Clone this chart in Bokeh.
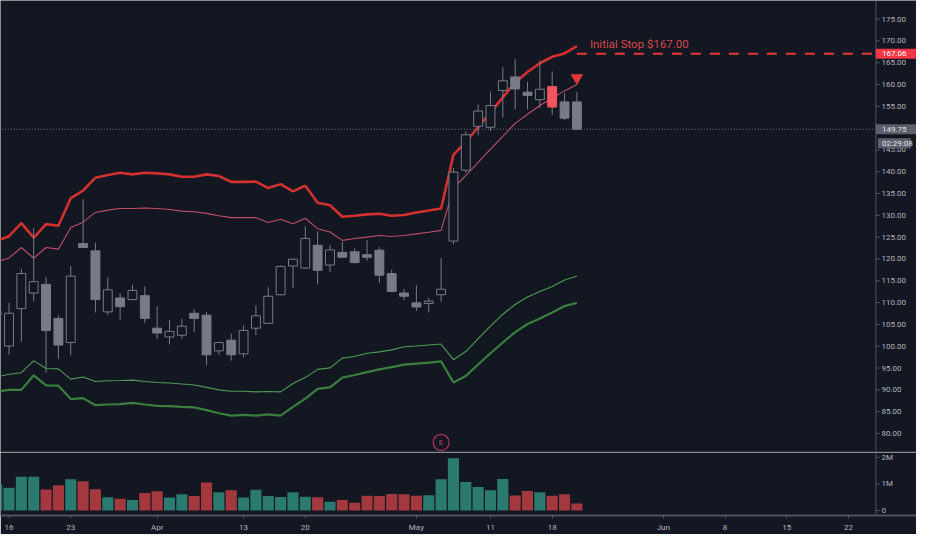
import numpy as np
from bokeh.plotting import figure
from bokeh.layouts import column
from bokeh.models import Range1d, FixedTicker, PrintfTickFormatter, Span, Label
from bokeh.core.properties import value
from bokeh.embed import file_html
from bokeh.resources import INLINE

# ---------------- data ----------------
dates = ["2020-03-13", "2020-03-16", "2020-03-17", "2020-03-18", "2020-03-19", "2020-03-20",
         "2020-03-23", "2020-03-24", "2020-03-25", "2020-03-26", "2020-03-27", "2020-03-30",
         "2020-03-31", "2020-04-01", "2020-04-02", "2020-04-03", "2020-04-06", "2020-04-07",
         "2020-04-08", "2020-04-09", "2020-04-13", "2020-04-14", "2020-04-15", "2020-04-16",
         "2020-04-17", "2020-04-20", "2020-04-21", "2020-04-22", "2020-04-23", "2020-04-24",
         "2020-04-27", "2020-04-28", "2020-04-29", "2020-04-30", "2020-05-01", "2020-05-04",
         "2020-05-05", "2020-05-06", "2020-05-07", "2020-05-08", "2020-05-11", "2020-05-12",
         "2020-05-13", "2020-05-14", "2020-05-15", "2020-05-18", "2020-05-19", "2020-05-20"]

opens = [107.05, 100.05, 108.61, 112.19, 114.2, 106.38, 100.85, 123.52, 121.87, 107.87, 111.07, 110.69,
         111.59, 104.14, 102.13, 102.51, 107.56, 107.11, 98.93, 101.39, 98.26, 104.14, 105.26, 111.81,
         118.38, 117.93, 123.14, 118.6, 121.51, 121.64, 120.97, 122.02, 116.66, 112.19, 109.95, 109.8,
         111.81, 124.1, 140.35, 150.41, 150.19, 158.62, 161.74, 158.24, 156.51, 159.51, 156.0, 156.0]
highs = [109.0, 109.95, 117.78, 127.1, 115.92, 107.11, 118.38, 133.65, 123.74, 115.76, 112.19, 114.04,
         113.69, 109.21, 106.0, 106.22, 108.45, 107.87, 101.01, 102.87, 104.74, 109.35, 113.53, 118.51,
         120.01, 127.46, 126.34, 123.21, 123.97, 122.47, 124.33, 122.76, 117.55, 113.08, 113.98, 111.07,
         120.24, 140.87, 149.29, 155.4, 158.39, 163.98, 165.84, 160.63, 165.46, 163.0, 158.01, 158.24]
lows = [106.0, 98.04, 101.01, 110.33, 93.93, 97.14, 97.88, 122.47, 107.72, 107.11, 106.09, 110.56,
        105.33, 101.62, 100.41, 101.75, 103.25, 95.65, 98.04, 96.7, 97.44, 102.51, 105.1, 111.67,
        113.31, 117.78, 114.2, 117.04, 120.24, 118.89, 119.63, 114.58, 112.35, 110.56, 108.1, 107.72,
        110.11, 123.36, 139.75, 148.33, 149.29, 152.42, 154.28, 154.28, 154.66, 153.03, 151.82, 149.58]
closes = [108.16, 107.56, 116.66, 114.8, 103.63, 100.27, 116.06, 122.63, 110.69, 112.93, 109.06, 112.79,
          106.38, 103.02, 103.4, 104.59, 106.38, 98.04, 100.85, 98.04, 103.63, 106.98, 111.45, 118.29,
          119.94, 124.71, 117.4, 122.09, 120.39, 119.18, 120.39, 116.28, 112.57, 111.45, 108.99, 110.33,
          113.08, 139.91, 148.47, 153.92, 155.17, 160.85, 158.97, 157.5, 158.91, 154.82, 152.27, 149.75]
volume_m = [0.99, 0.85, 1.27, 1.27, 0.79, 0.95, 1.17, 1.10, 0.80, 0.50, 0.44, 0.39,
            0.66, 0.72, 0.49, 0.61, 0.54, 1.05, 0.68, 0.76, 0.49, 0.78, 0.54, 0.51,
            0.68, 0.52, 0.50, 0.33, 0.39, 0.29, 0.55, 0.54, 0.62, 0.61, 0.55, 0.57,
            1.17, 1.96, 1.07, 0.88, 0.76, 1.18, 0.56, 0.73, 0.68, 0.55, 0.61, 0.26]

upper_outer = [124.15, 125.22, 128.21, 124.86, 127.99, 127.61, 133.94, 135.66, 138.63, 139.24, 139.75, 139.39,
               139.75, 139.62, 139.39, 138.86, 138.86, 139.39, 139.01, 137.67, 137.67, 137.74, 136.26, 137.16,
               135.5, 136.78, 132.91, 132.31, 129.69, 129.91, 130.23, 130.36, 129.91, 130.07, 130.67, 131.12,
               131.57, 143.86, 146.84, 150.19, 153.54, 157.05, 160.47, 162.86, 164.87, 166.35, 167.11, 168.81]
upper_inner = [119.34, 120.24, 122.63, 120.17, 122.63, 122.25, 127.23, 128.44, 130.67, 131.19, 131.57, 131.57,
               131.7, 131.57, 131.34, 130.96, 130.81, 130.45, 129.91, 129.47, 129.47, 129.47, 128.35, 129.11,
               128.06, 129.33, 126.94, 126.2, 124.26, 124.71, 125.0, 125.38, 125.15, 125.38, 125.76, 126.11,
               126.56, 136.17, 139.17, 142.14, 145.2, 148.11, 151.08, 153.16, 155.17, 156.89, 158.53, 160.02]
lower_inner = [92.96, 93.57, 93.93, 96.7, 94.91, 94.82, 92.45, 92.96, 91.91, 92.07, 92.14, 92.23,
               91.91, 91.69, 91.56, 91.33, 91.11, 90.57, 89.99, 89.68, 89.68, 89.54, 89.61, 89.54,
               91.47, 92.81, 94.69, 95.04, 97.28, 97.66, 98.4, 98.71, 99.16, 99.89, 100.05, 100.27,
               100.5, 96.92, 98.78, 101.75, 104.59, 107.34, 109.57, 111.29, 112.57, 113.69, 115.16, 116.06]
lower_outer = [89.61, 89.99, 89.99, 93.34, 91.02, 90.95, 87.89, 88.11, 86.48, 86.64, 86.71, 87.0,
               86.64, 86.33, 86.26, 86.1, 85.97, 85.36, 84.63, 84.09, 84.25, 84.09, 84.4, 84.09,
               86.1, 87.98, 90.22, 90.57, 92.81, 93.41, 94.08, 94.69, 95.2, 95.8, 96.03, 96.25,
               96.54, 91.69, 93.19, 95.8, 98.4, 100.86, 103.25, 105.1, 106.38, 107.72, 109.21, 109.95]

highlight_date = "2020-05-18"
signal_date = "2020-05-20"
signal_price = 161.5
earnings_date = "2020-05-05"
stop_price = 167.06
stop_text = "Initial Stop $167.00"
countdown_text = "02:29:08"

tick_pos = [1, 6, 13, 20, 25, 34, 40, 45, 54, 59, 64, 69]
tick_labels = ["16", "23", "Apr", "13", "20", "May", "11", "18", "Jun", "8", "15", "22"]
price_ticks = [80, 85, 90, 95, 100, 105, 110, 115, 120, 125, 130, 135, 140, 145, 150, 155, 160, 165, 170, 175]
vol_ticks = [0, 1, 2]
vol_tick_labels = ["0", "1M", "2M"]

# ---------------- style / layout ----------------
BG = "#131722"
GREY = "#787b86"
TEXT = "#b2b5be"
AXIS = "#50535e"
TEAL = "#2a7a70"
RED_VOL = "#a3393f"
RED_BAR = "#f5545d"
FONT = "Roboto"

W = 916
FRAME_H = 450
X_START, X_END = 0.31, 74.51      # full canvas width (price scale area included)
X_AXIS = 71.22                    # where the price scale starts
Y_START, Y_END = 75.64, 179.25
PX_X = W / (X_END - X_START)
PX_Y = FRAME_H / (Y_END - Y_START)
LABEL_STANDOFF = -(W - (X_AXIS - X_START) * PX_X) + 6

x = np.arange(len(dates))
o = np.array(opens); h = np.array(highs); l = np.array(lows); c = np.array(closes)
up = c >= o
hl = np.array([d == highlight_date for d in dates])
down = (~up) & (~hl)
upn = up & (~hl)


def style_scale_axis(ax, fig, ticks, overrides=None, fmt=None):
    ax.ticker = FixedTicker(ticks=ticks)
    if fmt is not None:
        ax.formatter = fmt
    if overrides is not None:
        ax.major_label_overrides = overrides
    ax.axis_line_color = None
    ax.major_tick_out = 0
    ax.major_tick_in = 0
    ax.minor_tick_out = 0
    ax.minor_tick_in = 0
    ax.major_label_text_color = TEXT
    ax.major_label_text_font = FONT
    ax.major_label_text_font_size = "8px"
    ok = True
    try:
        ax.major_label_standoff = int(round(LABEL_STANDOFF))
    except Exception:
        ok = False
    if not ok:
        ax.major_label_text_font_size = "0px"
        labels = [overrides[t] if overrides else f"{t:.2f}" for t in ticks]
        fig.text(x=[X_AXIS + 6 / PX_X] * len(ticks), y=ticks, text=labels, text_baseline="middle",
                 text_font=value(FONT), text_font_size="8px", text_color=TEXT)
    # scale line and tick marks
    fig.add_layout(Span(location=X_AXIS, dimension="height", line_color=AXIS, line_width=1))
    fig.segment(x0=[X_AXIS] * len(ticks), y0=ticks, x1=[X_AXIS + 4 / PX_X] * len(ticks), y1=ticks,
                line_color=AXIS, line_width=1)


# ---------------- price pane ----------------
p1 = figure(width=W, height=452, x_range=Range1d(X_START, X_END), y_range=Range1d(Y_START, Y_END),
            output_backend="svg", toolbar_location=None, y_axis_location="right",
            min_border_left=0, min_border_right=0, min_border_top=0, min_border_bottom=0,
            background_fill_color=BG, border_fill_color=BG, outline_line_color=None)
p1.grid.visible = False

p1.line(x, upper_inner, line_color="#c24d66", line_width=1.1)
p1.line(x, upper_outer, line_color="#d3302f", line_width=2.6)
p1.line(x, lower_inner, line_color="#4f9a55", line_width=1.1)
p1.line(x, lower_outer, line_color="#3b7f3f", line_width=2.2)

p1.segment(x, h, x, l, line_color=GREY, line_width=1)
p1.vbar(x=x[down], top=o[down], bottom=c[down], width=0.72, fill_color=GREY, line_color=GREY, line_width=1)
p1.vbar(x=x[upn], top=c[upn], bottom=o[upn], width=0.72, fill_color=BG, line_color=GREY, line_width=1)
p1.vbar(x=x[hl], top=np.maximum(o, c)[hl], bottom=np.minimum(o, c)[hl], width=0.72,
        fill_color=RED_BAR, line_color=RED_BAR, line_width=1)

# last price dotted line (up to the price scale)
p1.ray(x=[X_AXIS], y=[closes[-1]], length=0, angle=np.pi, line_color=GREY, line_width=1, line_dash="1 2")

# stop line and its text
last_x = x[-1]
p1.segment(x0=[last_x], y0=[stop_price], x1=[X_AXIS], y1=[stop_price],
           line_color="#e53935", line_width=2, line_dash="10 9")
p1.add_layout(Label(x=last_x, y=stop_price, x_offset=13, y_offset=3, text=stop_text,
                    text_font=FONT, text_font_size="11.5px", text_color="#d9474b",
                    text_baseline="bottom", text_align="left"))

# signal triangle
sx = dates.index(signal_date)
p1.scatter(x=[sx], y=[signal_price], marker="inverted_triangle", size=11,
           fill_color="#e53935", line_color="#e53935")

# earnings marker
ex = dates.index(earnings_date)
ey = Y_START + 10.0 / PX_Y
p1.scatter(x=[ex], y=[ey], marker="circle", size=16, fill_color=BG, line_color="#b8325e", line_width=1.2)
p1.text(x=[ex], y=[ey], text=["E"], text_align="center", text_baseline="middle",
        text_font=value(FONT), text_font_size="8px", text_color="#c2406a")

style_scale_axis(p1.yaxis[0], p1, price_ticks, fmt=PrintfTickFormatter(format="%.2f"))

xa = p1.xaxis[0]
xa.ticker = FixedTicker(ticks=[])
xa.major_label_text_font_size = "0px"
xa.major_tick_out = 0
xa.major_tick_in = 0
xa.minor_tick_out = 0
xa.minor_tick_in = 0
xa.major_label_standoff = 0
xa.axis_line_color = AXIS
xa.axis_line_width = 2

# price-scale boxes (stop price, last price, countdown)
bh = 10.0 / PX_Y
cd_y = closes[-1] - 14.0 / PX_Y
p1.quad(left=[X_AXIS, X_AXIS, X_AXIS + 2 / PX_X], right=[X_END, X_END, X_AXIS + 35 / PX_X],
        top=[stop_price + bh / 2, closes[-1] + bh / 2, cd_y + bh / 2],
        bottom=[stop_price - bh / 2, closes[-1] - bh / 2, cd_y - bh / 2],
        fill_color=["#f23645", "#5d606b", "#5d606b"], line_color=None, level="overlay")
p1.text(x=[X_AXIS + 6 / PX_X] * 3, y=[stop_price, closes[-1], cd_y],
        text=[f"{stop_price:.2f}", f"{closes[-1]:.2f}", countdown_text],
        text_color=["#ffffff", "#e0e3eb", "#e0e3eb"], text_baseline="middle",
        text_font=value(FONT), text_font_size="8px", level="overlay")

# ---------------- volume pane ----------------
p2 = figure(width=W, height=82, x_range=p1.x_range, y_range=Range1d(-0.19, 2.18),
            output_backend="svg", toolbar_location=None, y_axis_location="right",
            min_border_left=0, min_border_right=0, min_border_top=0, min_border_bottom=0,
            background_fill_color=BG, border_fill_color=BG, outline_line_color=None)
p2.grid.visible = False
vcolors = [TEAL if u else RED_VOL for u in up]
p2.vbar(x=x, top=volume_m, bottom=0, width=0.9, fill_color=vcolors, line_color=None)

style_scale_axis(p2.yaxis[0], p2, vol_ticks, overrides={t: s for t, s in zip(vol_ticks, vol_tick_labels)})

bx = p2.xaxis[0]
bx.ticker = FixedTicker(ticks=tick_pos)
bx.major_label_overrides = {t: s for t, s in zip(tick_pos, tick_labels)}
bx.major_tick_out = 3
bx.major_tick_in = 0
bx.minor_tick_out = 0
bx.minor_tick_in = 0
bx.major_tick_line_color = AXIS
bx.axis_line_color = AXIS
bx.axis_line_width = 2
bx.major_label_text_color = TEXT
bx.major_label_text_font = FONT
bx.major_label_text_font_size = "8px"
bx.major_label_standoff = 4

layout = column(p1, p2, spacing=0)
open("out.html", "w").write(file_html(layout, INLINE))
